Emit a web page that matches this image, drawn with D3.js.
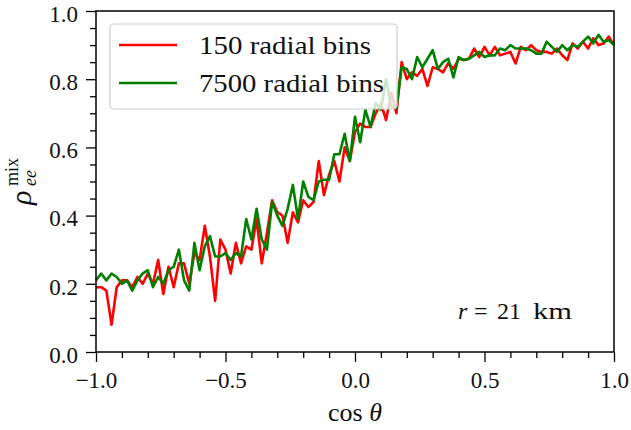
<!DOCTYPE html>
<html>
<head>
<meta charset="utf-8">
<script src="https://cdn.jsdelivr.net/npm/d3@7"></script>
<style>
  body { margin: 0; background: #fff; }
  text { font-family: "Liberation Serif", "DejaVu Serif", serif; fill: #111; }
</style>
</head>
<body>
<div id="plotdiv"></div>
<script>
// cos(theta) bins
const cosTheta = [
  -1.00, -0.98, -0.96, -0.94, -0.92, -0.90, -0.88, -0.86, -0.84, -0.82,
  -0.80, -0.78, -0.76, -0.74, -0.72, -0.70, -0.68, -0.66, -0.64, -0.62,
  -0.60, -0.58, -0.56, -0.54, -0.52, -0.50, -0.48, -0.46, -0.44, -0.42,
  -0.40, -0.38, -0.36, -0.34, -0.32, -0.30, -0.28, -0.26, -0.24, -0.22,
  -0.20, -0.18, -0.16, -0.14, -0.12, -0.10, -0.08, -0.06, -0.04, -0.02,
   0.00,  0.02,  0.04,  0.06,  0.08,  0.10,  0.12,  0.14,  0.16,  0.18,
   0.20,  0.22,  0.24,  0.26,  0.28,  0.30,  0.32,  0.34,  0.36,  0.38,
   0.40,  0.42,  0.44,  0.46,  0.48,  0.50,  0.52,  0.54,  0.56,  0.58,
   0.60,  0.62,  0.64,  0.66,  0.68,  0.70,  0.72,  0.74,  0.76,  0.78,
   0.80,  0.82,  0.84,  0.86,  0.88,  0.90,  0.92,  0.94,  0.96,  0.98,
   1.00
];

// rho_ee^mix, 150 radial bins
const rho150 = [
  0.19, 0.19, 0.18, 0.08, 0.19, 0.21, 0.21, 0.19, 0.22, 0.20,
  0.23, 0.20, 0.27, 0.17, 0.25, 0.19, 0.26, 0.26, 0.20, 0.29,
  0.27, 0.37, 0.28, 0.15, 0.33, 0.30, 0.23, 0.32, 0.26, 0.31,
  0.30, 0.39, 0.26, 0.35, 0.445, 0.41, 0.40, 0.32, 0.41, 0.38,
  0.445, 0.425, 0.44, 0.56, 0.46, 0.52, 0.56, 0.50, 0.60, 0.56,
  0.645, 0.67, 0.66, 0.66, 0.70, 0.73, 0.68, 0.76, 0.70, 0.85,
  0.80, 0.82, 0.81, 0.83, 0.78, 0.835, 0.83, 0.82, 0.847, 0.83,
  0.86, 0.856, 0.86, 0.89, 0.865, 0.895, 0.87, 0.895, 0.87, 0.875,
  0.88, 0.846, 0.895, 0.885, 0.90, 0.885, 0.88, 0.88, 0.875, 0.89,
  0.87, 0.856, 0.905, 0.89, 0.91, 0.89, 0.92, 0.90, 0.905, 0.925,
  0.90
];

// rho_ee^mix, 7500 radial bins
const rho7500 = [
  0.21, 0.23, 0.21, 0.23, 0.22, 0.20, 0.21, 0.18, 0.21, 0.23,
  0.24, 0.19, 0.22, 0.20, 0.24, 0.25, 0.30, 0.21, 0.18, 0.32,
  0.24, 0.31, 0.34, 0.28, 0.28, 0.29, 0.27, 0.29, 0.28, 0.39,
  0.33, 0.42, 0.33, 0.30, 0.44, 0.40, 0.37, 0.42, 0.49, 0.39,
  0.50, 0.455, 0.445, 0.50, 0.505, 0.505, 0.58, 0.58, 0.64, 0.56,
  0.69, 0.615, 0.71, 0.66, 0.73, 0.71, 0.80, 0.72, 0.715, 0.835,
  0.83, 0.80, 0.865, 0.835, 0.86, 0.885, 0.83, 0.85, 0.86, 0.805,
  0.865, 0.856, 0.86, 0.87, 0.88, 0.865, 0.87, 0.87, 0.89, 0.885,
  0.90, 0.89, 0.89, 0.89, 0.885, 0.875, 0.875, 0.91, 0.895, 0.88,
  0.90, 0.885, 0.90, 0.895, 0.91, 0.925, 0.905, 0.93, 0.91, 0.915,
  0.90
];

const seriesNames = ["150 radial bins", "7500 radial bins"];
const seriesColors = ["#ff0000", "#008000"];
const xMajorTicks = [-1.0, -0.5, 0.0, 0.5, 1.0];
const xMinorTicks = [-0.9, -0.8, -0.7, -0.6, -0.4, -0.3, -0.2, -0.1, 0.1, 0.2, 0.3, 0.4, 0.6, 0.7, 0.8, 0.9];
const yMajorTicks = [0.0, 0.2, 0.4, 0.6, 0.8, 1.0];
const yMinorTicks = [0.05, 0.1, 0.15, 0.25, 0.3, 0.35, 0.45, 0.5, 0.55, 0.65, 0.7, 0.75, 0.85, 0.9, 0.95];

let width = 631, height = 430;
let margin = {left: 96, top: 11, right: 17, bottom: 78};
let plotWidth = width - margin.left - margin.right;
let plotHeight = height - margin.top - margin.bottom;

var svg = d3.select('#plotdiv').append('svg')
  .attr('width', width)
  .attr('height', height);

let plot = svg.append('g')
  .attr('transform', `translate(${margin.left}, ${margin.top})`);

let xScale = d3.scaleLinear().domain([-1, 1]).range([0, plotWidth]);
let yScale = d3.scaleLinear().domain([0, 1]).range([plotHeight, 0]);

// minor ticks
plot.append('g')
  .attr('transform', `translate(0, ${plotHeight})`)
  .call(d3.axisBottom(xScale).tickValues(xMinorTicks).tickSize(6).tickFormat(''));
plot.append('g')
  .call(d3.axisLeft(yScale).tickValues(yMinorTicks).tickSize(6).tickFormat(''));

// major ticks
let xAxis = plot.append('g')
  .attr('transform', `translate(0, ${plotHeight})`)
  .call(d3.axisBottom(xScale).tickValues(xMajorTicks).tickSize(10).tickPadding(9).tickFormat(d3.format('.1f')));
let yAxis = plot.append('g')
  .call(d3.axisLeft(yScale).tickValues(yMajorTicks).tickSize(10).tickPadding(8).tickFormat(d3.format('.1f')));

plot.selectAll('.domain').remove();
plot.selectAll('.tick line').attr('stroke', '#000').attr('stroke-width', 1.3);
xAxis.selectAll('text').style('font-size', '23px').attr('fill', '#111').attr('dy', '0.75em');
yAxis.selectAll('text').style('font-size', '23px').attr('fill', '#111').attr('dy', '0.45em');

// lines
let line = d3.line()
  .x((d, i) => xScale(cosTheta[i]))
  .y(d => yScale(d));

[rho150, rho7500].forEach(function (vals, k) {
  plot.append('path')
    .datum(vals)
    .attr('fill', 'none')
    .attr('stroke', seriesColors[k])
    .attr('stroke-width', 2.6)
    .attr('stroke-linejoin', 'round')
    .attr('d', line);
});

// frame
plot.append('rect')
  .attr('x', 0).attr('y', 0)
  .attr('width', plotWidth).attr('height', plotHeight)
  .attr('fill', 'none')
  .attr('stroke', '#000')
  .attr('stroke-width', 1.5);

// legend
let legend = svg.append('g');
legend.append('rect')
  .attr('x', 110).attr('y', 24)
  .attr('width', 287).attr('height', 85)
  .attr('rx', 4)
  .attr('fill', '#fff').attr('fill-opacity', 0.8)
  .attr('stroke', '#cccccc').attr('stroke-width', 1.2);
seriesNames.forEach(function (name, k) {
  let yPos = 45 + k * 38;
  legend.append('line')
    .attr('x1', 119).attr('x2', 177)
    .attr('y1', yPos).attr('y2', yPos)
    .attr('stroke', seriesColors[k])
    .attr('stroke-width', 2.6);
  legend.append('text')
    .attr('x', 199)
    .attr('y', yPos + 9)
    .style('font-size', '25px')
    .attr('textLength', k == 0 ? 172 : 185)
    .attr('lengthAdjust', 'spacingAndGlyphs')
    .text(name);
});

// annotation r = 21 km (math spacing)
let ann = svg.append('g').style('font-size', '24px');
ann.append('text').attr('x', 458).attr('y', 319).style('font-style', 'italic').text('r');
ann.append('text').attr('x', 474).attr('y', 319).text('=');
ann.append('text').attr('x', 497).attr('y', 319).text('21');
ann.append('text').attr('x', 533).attr('y', 319)
  .attr('textLength', 39).attr('lengthAdjust', 'spacingAndGlyphs').text('km');

// x label
let xlab = svg.append('text')
  .attr('x', 355).attr('y', 421)
  .attr('text-anchor', 'middle')
  .style('font-size', '26px');
xlab.append('tspan').text('cos ');
xlab.append('tspan').style('font-style', 'italic').text('θ');

// y label
let ylab = svg.append('g')
  .attr('transform', 'translate(31, 205) rotate(-90)');
ylab.append('text')
  .attr('x', 0).attr('y', 0)
  .style('font-size', '30px')
  .style('font-style', 'italic')
  .text('ρ');
ylab.append('text')
  .attr('x', 19).attr('y', 5)
  .style('font-size', '18px')
  .style('font-style', 'italic')
  .text('ee');
ylab.append('text')
  .attr('x', 19).attr('y', -13)
  .style('font-size', '18px')
  .text('mix');
</script>
</body>
</html>
